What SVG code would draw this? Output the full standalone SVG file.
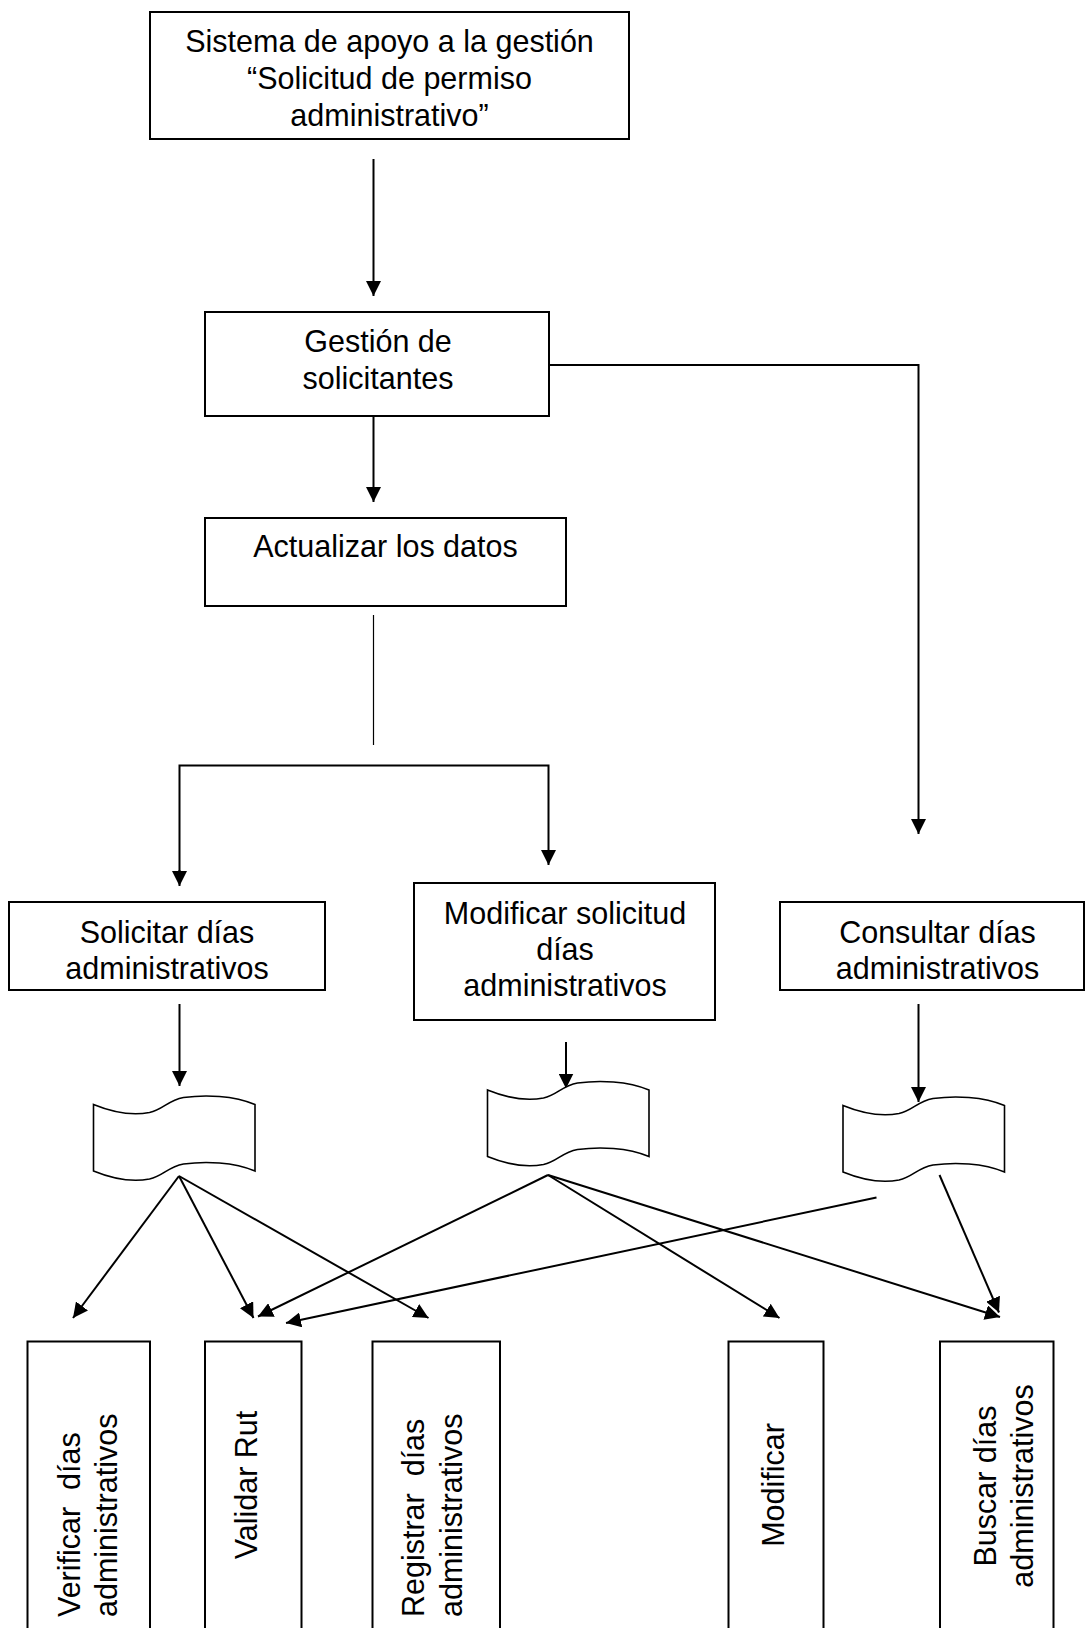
<svg xmlns="http://www.w3.org/2000/svg" width="1085" height="1628" viewBox="0 0 1085 1628">
  <style>
    .box { fill: #fff; stroke: #000; stroke-width: 2; }
    .doc { fill: #fff; stroke: #000; stroke-width: 1.6; }
    .lbl { font-family: "Liberation Sans", Arial, Helvetica, sans-serif; font-size: 30.5px; fill: #000; }
    .c { text-anchor: middle; }
    .wire { fill: none; stroke: #000; stroke-width: 2; }
    .thin { fill: none; stroke: #000; stroke-width: 1.2; }
    .arrow { marker-end: url(#ah); }
  </style>
  <defs>
    <marker id="ah" viewBox="0 0 15 15" refX="15" refY="7.5" markerWidth="15" markerHeight="15" markerUnits="userSpaceOnUse" orient="auto">
      <path d="M0,0 L15,7.5 L0,15 Z" fill="#000"/>
    </marker>
    <!-- punched-tape store symbol, origin at top-left corner -->
    <path id="tape" d="M0,0 C22,9 40,11 56,8 C70,5 74,-4 90,-7 C112,-10 140,-9 161.5,0 L161.5,66.5 C140,57.5 112,56.5 90,59.5 C74,62.5 70,71.5 56,74.5 C40,77.5 22,75.5 0,66.5 Z"/>
  </defs>

  <rect width="1085" height="1628" fill="#fff"/>

  <!-- connectors -->
  <g id="connectors">
    <line class="wire arrow" x1="373.5" y1="159" x2="373.5" y2="296"/>
    <line class="wire arrow" x1="373.5" y1="416" x2="373.5" y2="502"/>
    <polyline class="wire arrow" points="549,365 918.5,365 918.5,834"/>
    <line class="thin" x1="373.5" y1="615" x2="373.5" y2="745"/>
    <polyline class="wire" points="179.5,880 179.5,765.5 548.5,765.5 548.5,858"/>
    <line class="wire arrow" x1="179.5" y1="870" x2="179.5" y2="886"/>
    <line class="wire arrow" x1="548.5" y1="850" x2="548.5" y2="865"/>
    <line class="wire arrow" x1="179.5" y1="1004" x2="179.5" y2="1086"/>
    <line class="wire arrow" x1="566" y1="1042" x2="566" y2="1088.5"/>
    <line class="wire arrow" x1="918.5" y1="1004" x2="918.5" y2="1102"/>

    <line class="wire arrow" x1="179" y1="1176" x2="73" y2="1318"/>
    <line class="wire arrow" x1="179" y1="1176" x2="253.5" y2="1318"/>
    <line class="wire arrow" x1="179" y1="1176" x2="428.5" y2="1318"/>
    <line class="wire arrow" x1="548" y1="1175" x2="258" y2="1316.5"/>
    <line class="wire arrow" x1="876.5" y1="1197.5" x2="286" y2="1323"/>
    <line class="wire arrow" x1="548" y1="1175" x2="779.5" y2="1318"/>
    <line class="wire arrow" x1="548" y1="1175" x2="1000" y2="1317"/>
    <line class="wire arrow" x1="939.5" y1="1175" x2="999" y2="1312.5"/>
  </g>

  <g id="n-sistema">
    <rect class="box" x="150" y="12" width="479" height="127"/>
    <text class="lbl c" x="389.5" y="52">Sistema de apoyo a la gestión</text>
    <text class="lbl c" x="389.5" y="89">“Solicitud de permiso</text>
    <text class="lbl c" x="389.5" y="126">administrativo”</text>
  </g>

  <g id="n-gestion">
    <rect class="box" x="205" y="312" width="344" height="104"/>
    <text class="lbl c" x="378" y="352">Gestión de</text>
    <text class="lbl c" x="378" y="389">solicitantes</text>
  </g>

  <g id="n-actualizar">
    <rect class="box" x="205" y="518" width="361" height="88"/>
    <text class="lbl c" x="385.5" y="557">Actualizar los datos</text>
  </g>

  <g id="n-solicitar">
    <rect class="box" x="9" y="902" width="316" height="88"/>
    <text class="lbl c" x="167" y="943">Solicitar días</text>
    <text class="lbl c" x="167" y="979">administrativos</text>
  </g>

  <g id="n-modificar-sol">
    <rect class="box" x="414" y="883" width="301" height="137"/>
    <text class="lbl c" x="565" y="924">Modificar solicitud</text>
    <text class="lbl c" x="565" y="960">días</text>
    <text class="lbl c" x="565" y="996">administrativos</text>
  </g>

  <g id="n-consultar">
    <rect class="box" x="780" y="902" width="304" height="88"/>
    <text class="lbl c" x="937.5" y="943">Consultar días</text>
    <text class="lbl c" x="937.5" y="979">administrativos</text>
  </g>

  <g id="n-store-1">
    <use href="#tape" class="doc" transform="translate(93.5,1104.5)"/>
  </g>
  <g id="n-store-2">
    <use href="#tape" class="doc" transform="translate(487.5,1090)"/>
  </g>
  <g id="n-store-3">
    <use href="#tape" class="doc" transform="translate(843,1105.5)"/>
  </g>

  <g id="n-verificar">
    <rect class="box" x="27.5" y="1341.5" width="122.5" height="320"/>
    <text class="lbl" xml:space="preserve" transform="translate(80,1617) rotate(-90)">Verificar  días</text>
    <text class="lbl" transform="translate(117,1617) rotate(-90)">administrativos</text>
  </g>

  <g id="n-validar">
    <rect class="box" x="205" y="1341.5" width="96.5" height="320"/>
    <text class="lbl c" transform="translate(257,1485) rotate(-90)">Validar Rut</text>
  </g>

  <g id="n-registrar">
    <rect class="box" x="372.5" y="1341.5" width="127.5" height="320"/>
    <text class="lbl" xml:space="preserve" transform="translate(424,1617) rotate(-90)">Registrar  días</text>
    <text class="lbl" transform="translate(462,1617) rotate(-90)">administrativos</text>
  </g>

  <g id="n-modificar">
    <rect class="box" x="728.5" y="1341.5" width="95" height="320"/>
    <text class="lbl c" transform="translate(784,1485) rotate(-90)">Modificar</text>
  </g>

  <g id="n-buscar">
    <rect class="box" x="940" y="1341.5" width="113.5" height="320"/>
    <text class="lbl c" transform="translate(996,1486) rotate(-90)">Buscar días</text>
    <text class="lbl c" transform="translate(1033,1486) rotate(-90)">administrativos</text>
  </g>
</svg>
